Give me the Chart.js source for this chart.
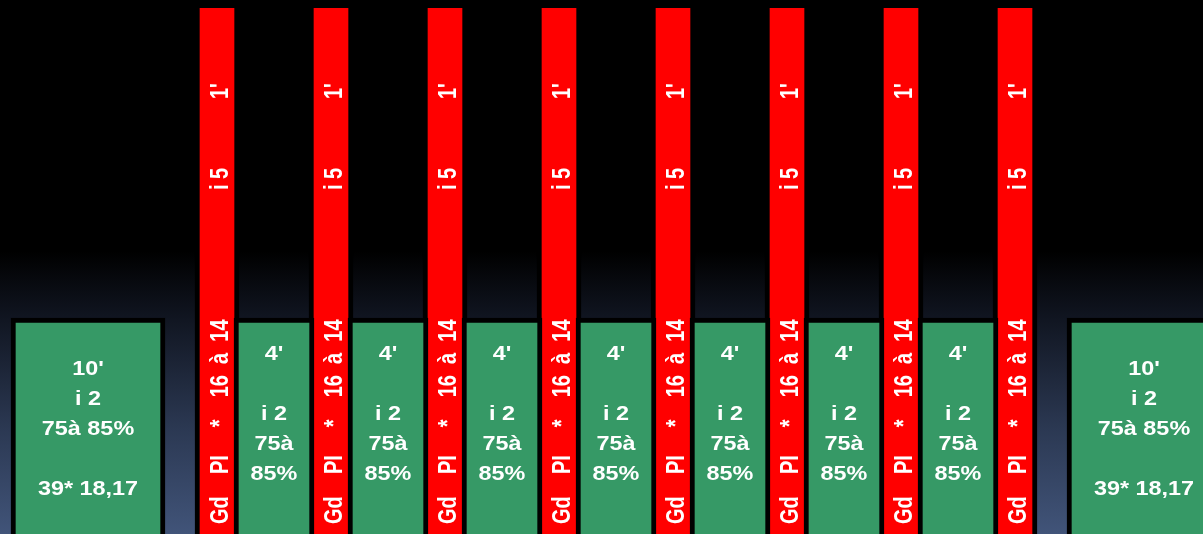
<!DOCTYPE html>
<html>
<head>
<meta charset="utf-8">
<script src="https://cdn.jsdelivr.net/npm/chart.js@4/dist/chart.umd.min.js"></script>
<style>
  html, body { margin: 0; padding: 0; background: #000; }
  #wrap {
    position: relative; width: 1203px; height: 534px;
    background: linear-gradient(to bottom, #000 0%, #000 47%, #111622 60%, #2b3852 80%, #415479 100%);
  }
</style>
</head>
<body>
<div id="wrap"><canvas id="plan"></canvas></div>
<script>
(function() {
  'use strict';

  // ── Data ────────────────────────────────────────────────────
  // session blocks, left to right: long warm-up / cool-down, hard reps, easy recoveries
  const blockKinds = [
    'long',
    'hard', 'easy', 'hard', 'easy', 'hard', 'easy', 'hard', 'easy',
    'hard', 'easy', 'hard', 'easy', 'hard', 'easy', 'hard',
    'long'
  ];
  // intensity level of each block (i 2 / i 5)
  const blockIntensity = [
    2,
    5, 2, 5, 2, 5, 2, 5, 2,
    5, 2, 5, 2, 5, 2, 5,
    2
  ];
  const longText = ["10'", 'i 2', '75à 85%', '', '39* 18,17'];
  const easyText = ["4'", '', 'i 2', '75à', '85%'];
  const hardText = ['Gd    PI     *    16  à  14', 'i 5', "1'"];

  // ── Layout / style ──────────────────────────────────────────
  const WIDTH = { long: 154, hard: 44, easy: 80 };
  const COLOR = { long: '#369966', hard: '#ff0000', easy: '#369966' };
  const BORDER = {
    long: { top: 5, left: 5, right: 5, bottom: 0 },
    easy: { top: 5, left: 5, right: 5, bottom: 0 },
    hard: { top: 0, left: 5, right: 5, bottom: 0 }
  };
  const MARGIN = 11, GAP = 30, OVERLAP = 5;
  const FONT = 'bold 20px "Liberation Sans", Arial, sans-serif';
  const STRETCH = 1.17;      // slide was stretched sideways
  const HARD_STRETCH = 1.25;
  const hardOffsets = [10, 344, 435]; // text start, px up from the bottom

  // centre of every block along a pixel-wide linear axis
  const centres = [];
  let pos = MARGIN;
  blockKinds.forEach((k, i) => {
    if (i > 0) {
      const prev = blockKinds[i - 1];
      pos += (prev === 'long' || k === 'long') ? GAP : -OVERLAP;
    }
    centres.push(pos + WIDTH[k] / 2);
    pos += WIDTH[k];
  });

  function datasetFor(kind) {
    const pts = [];
    blockKinds.forEach((k, i) => {
      if (k === kind) pts.push({ x: centres[i], y: [-1, blockIntensity[i]] });
    });
    return {
      label: kind,
      kind: kind,
      data: pts,
      backgroundColor: COLOR[kind],
      borderColor: '#000',
      borderWidth: BORDER[kind],
      borderSkipped: false,
      barThickness: WIDTH[kind],
      grouped: false
    };
  }

  // ── Labels plugin ───────────────────────────────────────────
  const labelPlugin = {
    id: 'blockLabels',
    afterDatasetsDraw(chart) {
      const ctx = chart.ctx;
      const area = chart.chartArea;
      ctx.save();
      ctx.font = FONT;
      ctx.fillStyle = '#fff';
      chart.data.datasets.forEach((ds, di) => {
        const meta = chart.getDatasetMeta(di);
        meta.data.forEach(bar => {
          if (ds.kind === 'hard') {
            hardText.forEach((seg, si) => {
              ctx.save();
              ctx.translate(bar.x, area.bottom - hardOffsets[si]);
              ctx.scale(HARD_STRETCH, 1);
              ctx.rotate(-Math.PI / 2);
              ctx.textAlign = 'left';
              ctx.textBaseline = 'alphabetic';
              ctx.fillText(seg, 0, 8.8);
              ctx.restore();
            });
          } else {
            const lines = ds.kind === 'long' ? longText : easyText;
            const first = ds.kind === 'long' ? 57 : 42;
            lines.forEach((line, li) => {
              if (!line) return;
              ctx.save();
              ctx.translate(bar.x, bar.y + first + li * 30);
              ctx.scale(STRETCH, 1);
              ctx.textAlign = 'center';
              ctx.textBaseline = 'alphabetic';
              ctx.fillText(line, 0, 0);
              ctx.restore();
            });
          }
        });
      });
      ctx.restore();
    }
  };

  new Chart(document.getElementById('plan').getContext('2d'), {
    type: 'bar',
    data: {
      datasets: [datasetFor('long'), datasetFor('easy'), datasetFor('hard')]
    },
    options: {
      responsive: true,
      maintainAspectRatio: false,
      animation: false,
      layout: { padding: 0 },
      plugins: { legend: { display: false }, tooltip: { enabled: false } },
      scales: {
        x: { type: 'linear', min: 0, max: 1203, offset: false, display: false },
        y: { min: -0.09, max: 5.077, display: false }
      }
    },
    plugins: [labelPlugin]
  });
})();
</script>
</body>
</html>
